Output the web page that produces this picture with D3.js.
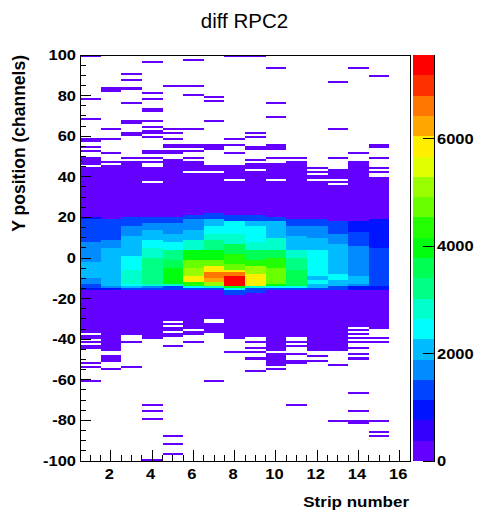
<!DOCTYPE html>
<html><head><meta charset="utf-8">
<script src="https://cdn.jsdelivr.net/npm/d3@7"></script>
<style>body{margin:0;background:#fff}</style>
</head><body>
<svg id="c" width="482" height="511"></svg>
<script>
// ---------------- data ----------------
const title = "diff RPC2";
const xTitle = "Strip number";
const yTitle = "Y position (channels)";
const strips = d3.range(1, 16);              // strips with entries (1..15), x bins of width 1
const xDomain = [0.5, 16.5];
const yDomain = [-100, 100];                 // y bins of width 1
const zMax = 7560;
const nContours = 20;
const xTickLabels = [2, 4, 6, 8, 10, 12, 14, 16];
const yTickLabels = [-100, -80, -60, -40, -20, 0, 20, 40, 60, 80, 100];
const zTickLabels = [0, 2000, 4000, 6000];

// solid low-count band per strip: lowest and highest filled y bin
const bandBottom = [-45, -46, -38, -40, -30, -38, -37, -40, -39, -46, -39, -45, -46, -33, -35];
const bandTop    = [ 49,  47,  47,  43,  48,  47,  45,  45,  46,  46,  47,  42,  43,  47,  40];
const bandCount = 150;
// empty bins inside the band
const bandGaps = [[45,-38,-41,-43],[46],[],[37],[],[42,-36],[42,-31,-32],[38],[43],[38],[],[41,38],[38,36],[],[40]];
// isolated low-count bins outside the band
const sparseCount = 30;
const sparseHits = [
  [99,78,68,58,57,54,52,-52,-54,-61],
  [83,82,63,58,51,-49,-50,-51,-55],
  [90,87,83,76,67,66,61,60,49,-42,-54],
  [96,81,78,73,72,67,64,62,61,59,52,51,49,47,44,-73,-76,-80,-100],
  [84,63,61,58,55,54,52,51,-31,-33,-35,-36,-38,-39,-44,-88,-92,-97],
  [97,84,80,63,55,54,52,49,-42],
  [79,77,67,55,54,53,-61],
  [99,58,55,51,-47],
  [99,61,59,54,53,48,-42,-45,-47,-50,-56],
  [93,76,69,55,54,53,49,-48,-49,-50,-51,-52,-53,-55],
  [49,47,46,-42,-44,-48,-51,-52,-73],
  [44,-46,-49,-51],
  [86,63,49,-53,-81],
  [93,51,-34,-36,-38,-40,-42,-45,-48,-50,-67,-76,-81,-82],
  [89,55,54,49,44,42,-40,-42,-81,-86,-88]
];
// central peak: runs [highest bin, lowest bin, count] per strip
const coreRuns = [
  [[19,19,945],[18,8,1320],[7,-2,1700],[-3,-10,2080],[-11,-13,1700],[-14,-15,1320],[-16,-16,945]],
  [[18,9,1320],[8,5,1700],[4,-14,2080],[-15,-15,1700],[-16,-16,945]],
  [[19,16,1320],[15,11,1700],[10,1,2080],[0,-6,2460],[-7,-13,2840],[-14,-14,2460],[-15,-15,2080],[-16,-16,1320]],
  [[19,17,1320],[16,14,1700],[13,9,2080],[8,5,2460],[4,0,2840],[-1,-13,3210],[-14,-14,2840],[-15,-15,1700],[-16,-16,1320]],
  [[19,17,1320],[16,12,1700],[11,8,2080],[7,4,2460],[3,-1,3210],[-2,-5,3590],[-6,-13,3970],[-14,-14,2840],[-15,-16,1320]],
  [[20,19,1320],[18,14,1700],[13,9,2080],[8,4,2840],[3,-1,3970],[-2,-5,4730],[-6,-9,5100],[-10,-12,5860],[-13,-14,4350],[-15,-15,2460],[-16,-16,1320]],
  [[21,19,1320],[18,16,2080],[15,12,2460],[11,9,2840],[8,4,3210],[3,-1,3970],[-2,-4,4730],[-5,-7,5860],[-8,-10,6620],[-11,-12,6240],[-13,-14,5100],[-15,-15,2840],[-16,-16,1320]],
  [[20,18,1320],[17,12,2460],[11,7,2840],[6,2,3590],[1,-3,4350],[-4,-6,4730],[-7,-7,5860],[-8,-9,6620],[-10,-14,7500],[-15,-15,3970],[-16,-16,2460],[-17,-18,1320]],
  [[20,18,1320],[17,16,2080],[15,8,2460],[7,4,2840],[3,-1,3590],[-2,-4,4350],[-5,-8,5100],[-9,-14,5860],[-15,-15,2840],[-16,-17,1320]],
  [[19,18,1320],[17,10,2080],[9,4,2840],[3,0,3590],[-1,-5,4350],[-6,-13,4730],[-14,-14,3970],[-15,-15,2460],[-16,-16,1320]],
  [[18,16,1320],[15,11,1700],[10,4,2080],[3,0,2840],[-1,-6,3210],[-7,-14,3590],[-15,-15,2460],[-16,-16,1320]],
  [[18,16,1320],[15,10,1700],[9,4,2080],[3,-9,2460],[-10,-11,2080],[-12,-13,2460],[-14,-15,2080],[-16,-16,1320]],
  [[17,12,1320],[11,7,1700],[6,-8,2080],[-9,-11,2460],[-12,-14,2080],[-15,-16,1320]],
  [[17,13,945],[12,6,1320],[5,-9,1700],[-10,-13,2080],[-14,-14,1700],[-15,-16,945]],
  [[18,5,945],[4,-14,1320],[-15,-16,945]]
];

// ---------------- build cells ----------------
const cells = [];
strips.forEach((s, i) => {
  const m = new Map();
  for (let b = bandBottom[i]; b <= bandTop[i]; b++) m.set(b, bandCount);
  bandGaps[i].forEach(b => m.delete(b));
  coreRuns[i].forEach(([hi, lo, c]) => { for (let b = lo; b <= hi; b++) m.set(b, c); });
  sparseHits[i].forEach(b => m.set(b, sparseCount));
  m.forEach((c, b) => { if (c > 0) cells.push({s, b, c}); });
});

// ---------------- drawing ----------------
const svg = d3.select("#c");
const L = 80, R = 410, T = 55, B = 461;
const x = d3.scaleLinear().domain(xDomain).range([L, R]);
const y = d3.scaleLinear().domain(yDomain).range([B, T]);
const zs = d3.scaleLinear().domain([0, zMax]).range([B, T]);
const step = zMax / nContours;
function levelColor(j) {
  const idx = Math.floor((j + 0.99) * 50 / nContours);
  return d3.hsl(280 - 5.6 * (idx + 1), 1, 0.5).formatHex();
}
function colorOf(v) { return levelColor(Math.min(nContours - 1, Math.floor(v / step))); }

const FONT = '"Liberation Sans", Arial, Helvetica, sans-serif';
function txt(str, tx, ty, anchor, size, weight, sy, rot) {
  svg.append("text")
    .attr("transform", `translate(${tx},${ty})` + (rot ? ` rotate(${rot})` : "") + ` scale(1,${sy})`)
    .attr("text-anchor", anchor)
    .style("font-family", FONT).style("font-size", size + "px").style("font-weight", weight)
    .attr("fill", "#000").text(str);
}

// cells
svg.append("g").attr("shape-rendering", "crispEdges")
  .selectAll("rect").data(cells).join("rect")
  .attr("x", d => x(d.s - 0.5)).attr("width", d => x(d.s + 0.5) - x(d.s - 0.5))
  .attr("y", d => y(d.b + 1)).attr("height", d => y(d.b) - y(d.b + 1))
  .attr("fill", d => colorOf(d.c));

// frame
svg.append("rect").attr("x", L).attr("y", T).attr("width", R - L).attr("height", B - T)
  .attr("fill", "none").attr("stroke", "#000").attr("stroke-width", 1).attr("shape-rendering", "crispEdges");

// x ticks
const gt = svg.append("g").attr("stroke", "#000").attr("shape-rendering", "crispEdges");
d3.range(1, 16.51, 0.5).forEach(v => {
  const major = Math.abs(v / 2 - Math.round(v / 2)) < 1e-9;
  gt.append("line").attr("x1", x(v)).attr("x2", x(v)).attr("y1", B).attr("y2", B - (major ? 11 : 6));
});
d3.range(-100, 100.1, 5).forEach(v => {
  const major = v % 20 === 0;
  gt.append("line").attr("y1", y(v)).attr("y2", y(v)).attr("x1", L).attr("x2", L + (major ? 11 : 6));
});

xTickLabels.forEach(v => txt(String(v), x(v) - 1.5, 478.5, "middle", 16.5, "bold", 0.85));
yTickLabels.forEach(v => txt(String(v), 76, y(v) + 5, "end", 16.5, "bold", 0.85));

// titles
txt(title, 244.5, 28, "middle", 20.5, "normal", 1);
txt(xTitle, 409, 507, "end", 17, "bold", 0.85);
txt(yTitle, 25, 55, "end", 17.5, "bold", 1, -90);

// colour bar
const CB0 = 412.5, CB1 = 434.7;
svg.append("g").attr("shape-rendering", "crispEdges").selectAll("rect")
  .data(d3.range(nContours)).join("rect")
  .attr("x", CB0).attr("width", CB1 - CB0)
  .attr("y", j => zs((j + 1) * step)).attr("height", j => zs(j * step) - zs((j + 1) * step))
  .attr("fill", j => levelColor(j));
svg.append("line").attr("x1", CB1).attr("x2", CB1).attr("y1", T).attr("y2", B)
  .attr("stroke", "#000").attr("shape-rendering", "crispEdges");
zTickLabels.forEach(v => {
  svg.append("line").attr("x1", CB1 - 12).attr("x2", CB1).attr("y1", zs(v)).attr("y2", zs(v))
    .attr("stroke", "#000").attr("shape-rendering", "crispEdges");
  txt(String(v), 437, zs(v) + 5, "start", 16.5, "bold", 0.85);
});
</script>
</body></html>
